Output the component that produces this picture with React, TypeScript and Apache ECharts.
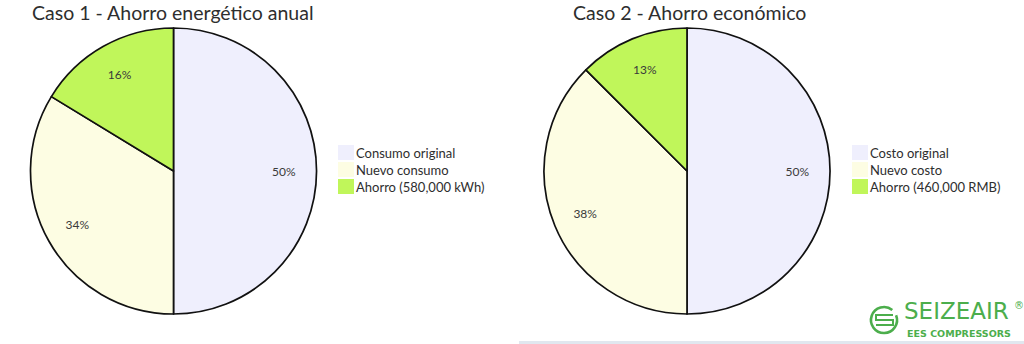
import React, { useEffect, useRef } from "react";
import * as echarts from "echarts";

// Case 1: annual energy consumption (kWh)
const energyNames = ["Consumo original", "Nuevo consumo", "Ahorro (580,000 kWh)"];
const energyValues = [1780000, 1200000, 580000];

// Case 2: annual cost (RMB)
const costNames = ["Costo original", "Nuevo costo", "Ahorro (460,000 RMB)"];
const costValues = [1840000, 1380000, 460000];

const chartTitles = ["Caso 1 - Ahorro energético anual", "Caso 2 - Ahorro económico"];
const sliceColors = ["#efeffd", "#fdfde3", "#c0f65a"];

const FONT = "Lato, 'Open Sans', sans-serif";
const TEXT = "#2e2e2e";
const LOGO_GREEN = "#4cae4c";
const R = 143;

function pieData(names: string[], values: number[]) {
  return names.map((name, i) => ({ name, value: values[i], itemStyle: { color: sliceColors[i] } }));
}

function pctFormatter(values: number[]) {
  const total = values.reduce((a, b) => a + b, 0);
  return (p: any) => `${Math.round((p.value / total) * 100)}%`;
}

function pieSeries(names: string[], values: number[], cx: number) {
  const data = pieData(names, values);
  return [
    {
      type: "pie",
      center: [cx, 171],
      radius: [0, R],
      startAngle: 90,
      clockwise: true,
      silent: true,
      data,
      label: { show: false },
      labelLine: { show: false },
      itemStyle: { borderColor: "#111", borderWidth: 1.7 },
      emphasis: { disabled: true },
    },
    {
      // transparent ring that places the percentage labels at 3/4 of the radius
      type: "pie",
      center: [cx, 171],
      radius: [R / 2, R],
      startAngle: 90,
      clockwise: true,
      silent: true,
      legendHoverLink: false,
      data: data.map((d) => ({ name: d.name, value: d.value, itemStyle: { color: "transparent", borderWidth: 0 } })),
      label: {
        show: true,
        position: "inside",
        formatter: pctFormatter(values),
        color: "#3a3a3a",
        fontSize: 12,
        fontFamily: FONT,
      },
      labelLine: { show: false },
      emphasis: { disabled: true },
    },
  ];
}

function legend(names: string[], left: number) {
  return {
    orient: "vertical",
    left,
    top: 145,
    padding: 0,
    data: names,
    icon: "rect",
    itemWidth: 16,
    itemHeight: 15,
    itemGap: 2,
    selectedMode: false,
    itemStyle: { borderWidth: 0 },
    textStyle: { color: TEXT, fontSize: 13, lineHeight: 15, fontFamily: FONT, padding: [0, 0, 0, -3] },
  };
}

export default function App() {
  const ref = useRef<HTMLDivElement>(null);

  useEffect(() => {
    document.body.style.margin = "0";
    const chart = echarts.init(ref.current!, null, { renderer: "svg" });
    const titleStyle = { color: TEXT, fontSize: 19.5, fontWeight: "normal", fontFamily: FONT };
    chart.setOption({
      animation: false,
      backgroundColor: "#ffffff",
      title: [
        { text: chartTitles[0], left: 32, top: 2, padding: 0, textStyle: titleStyle },
        { text: chartTitles[1], left: 573, top: 2, padding: 0, textStyle: titleStyle },
      ],
      legend: [legend(energyNames, 338), legend(costNames, 852)],
      series: [...pieSeries(energyNames, energyValues, 173.5), ...pieSeries(costNames, costValues, 687)],
      graphic: [
        { type: "rect", shape: { x: 519, y: 341, width: 505, height: 3 }, style: { fill: "#e1e7ef" }, silent: true },
        {
          type: "arc",
          shape: { cx: 884, cy: 320, r: 13, startAngle: -0.12 * Math.PI, endAngle: 1.72 * Math.PI, clockwise: true },
          style: { stroke: LOGO_GREEN, lineWidth: 2.6, fill: "none" },
          silent: true,
        },
        {
          type: "polyline",
          shape: { points: [[893, 315], [876, 315], [876, 320], [893, 320], [893, 325], [876, 325]] },
          style: { stroke: LOGO_GREEN, lineWidth: 2, fill: "none" },
          silent: true,
        },
        {
          type: "text",
          x: 904,
          y: 299,
          style: { text: "SEIZEAIR", fill: LOGO_GREEN, font: "23px 'DejaVu Sans', sans-serif" },
          silent: true,
        },
        {
          type: "text",
          x: 1014,
          y: 300,
          style: { text: "®", fill: LOGO_GREEN, font: "10px 'DejaVu Sans', sans-serif" },
          silent: true,
        },
        {
          type: "text",
          x: 907,
          y: 328,
          style: { text: "EES COMPRESSORS", fill: LOGO_GREEN, font: "bold 9.5px 'DejaVu Sans', sans-serif" },
          silent: true,
        },
      ],
    });
    return () => chart.dispose();
  }, []);

  return <div ref={ref} style={{ width: 1024, height: 344 }} />;
}
